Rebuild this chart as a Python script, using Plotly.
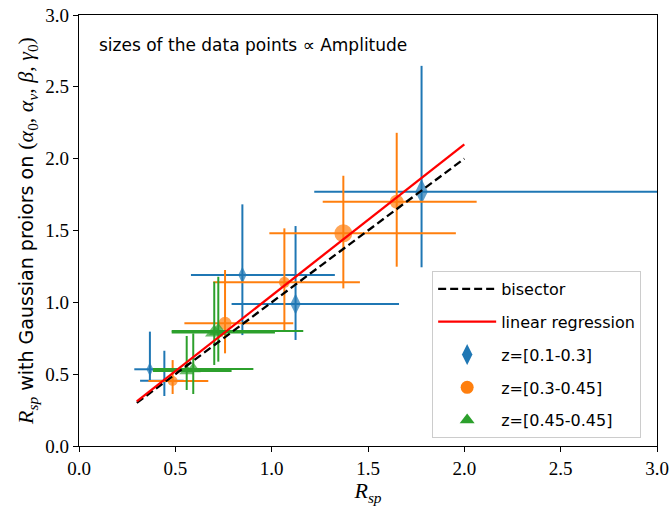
import plotly.graph_objects as go

# ---- data ----
bisector_x = [0.3, 2.0]
bisector_y = [0.3, 2.0]
reg_x = [0.3, 2.0]
reg_y = [0.31, 2.10]

blue_x = [0.368, 0.443, 0.848, 1.124, 1.778]
blue_y = [0.534, 0.455, 1.190, 0.988, 1.770]
blue_xm = [0.081, 0.126, 0.267, 0.332, 0.557]
blue_xp = [0.080, 0.100, 0.480, 0.537, 1.500]
blue_ym = [0.086, 0.107, 0.418, 0.250, 0.526]
blue_yp = [0.262, 0.208, 0.492, 0.543, 0.876]
blue_amp = [10, 5, 12, 15, 18]

orange_x = [0.486, 0.758, 1.066, 1.372, 1.649]
orange_y = [0.452, 0.854, 1.139, 1.480, 1.700]
orange_xm = [0.126, 0.211, 0.369, 0.384, 0.384]
orange_xp = [0.185, 0.354, 0.392, 0.584, 0.415]
orange_ym = [0.090, 0.209, 0.332, 0.383, 0.452]
orange_yp = [0.146, 0.371, 0.376, 0.401, 0.480]
orange_amp = [10, 13, 11, 18, 14]

green_x = [0.559, 0.593, 0.702, 0.723]
green_y = [0.522, 0.536, 0.790, 0.800]
green_xm = [0.175, 0.209, 0.221, 0.242]
green_xp = [0.233, 0.312, 0.315, 0.441]
green_ym = [0.132, 0.174, 0.226, 0.213]
green_yp = [0.244, 0.248, 0.353, 0.378]
green_amp = [13, 13, 16, 16]

ticks = [0.0, 0.5, 1.0, 1.5, 2.0, 2.5, 3.0]
tick_labels = ["0.0", "0.5", "1.0", "1.5", "2.0", "2.5", "3.0"]

labels = ["z=[0.1-0.3]", "z=[0.3-0.45]", "z=[0.45-0.45]"]
colors = ["#1f77b4", "#ff7f0e", "#2ca02c"]
symbols = ["diamond-tall", "circle", "triangle-up"]
legend_sizes = [15, 13, 13]

SANS = "DejaVu Sans"
SERIF = "Liberation Serif"

fig = go.Figure()

groups = [
    (blue_x, blue_y, blue_xm, blue_xp, blue_ym, blue_yp, blue_amp),
    (orange_x, orange_y, orange_xm, orange_xp, orange_ym, orange_yp, orange_amp),
    (green_x, green_y, green_xm, green_xp, green_ym, green_yp, green_amp),
]

for (x, y, xm, xp, ym, yp, amp), col, sym in zip(groups, colors, symbols):
    fig.add_trace(go.Scatter(
        x=x, y=y, mode="markers", showlegend=False,
        marker=dict(color=col, size=amp, symbol=sym, line=dict(width=0)),
        error_x=dict(type="data", symmetric=False, array=xp, arrayminus=xm,
                     color=col, thickness=2, width=0),
        error_y=dict(type="data", symmetric=False, array=yp, arrayminus=ym,
                     color=col, thickness=2, width=0),
    ))

fig.add_trace(go.Scatter(x=bisector_x, y=bisector_y, mode="lines", name="bisector",
                         line=dict(color="black", width=2.3, dash="8px,4px"),
                         legendgroup="g1", legendrank=1))
fig.add_trace(go.Scatter(x=reg_x, y=reg_y, mode="lines", name="linear regression",
                         line=dict(color="red", width=2.3),
                         legendgroup="g2", legendrank=2))

for i, (lab, col, sym, ls) in enumerate(zip(labels, colors, symbols, legend_sizes)):
    fig.add_trace(go.Scatter(x=[None], y=[None], mode="markers", name=lab,
                             marker=dict(color=col, size=ls, symbol=sym),
                             legendgroup="g%d" % (i + 3), legendrank=i + 3))

fig.add_annotation(x=0.031, y=0.930, xref="paper", yref="paper",
                   text="sizes of the data points ∝ Amplitude", showarrow=False,
                   xanchor="left", yanchor="middle",
                   font=dict(family=SANS, size=17, color="black"))

MATH = "font-family:Liberation Serif;font-size:22px"
ytitle = ('<span style="%s"><i>R</i><sub><i>sp</i></sub></span>'
          ' with Gaussian proiors on '
          '<span style="%s">(<i>α</i><sub>0</sub>, <i>α</i><sub><i>ν</i></sub>, '
          '<i>β</i>, <i>γ</i><sub>0</sub>)</span>') % (MATH, MATH)

axis_common = dict(range=[0, 3], tickmode="array", tickvals=ticks, ticktext=tick_labels,
                   showgrid=False, zeroline=False, showline=True, mirror=True,
                   linecolor="black", linewidth=1.2, ticks="outside", ticklen=5,
                   tickwidth=1.2, tickcolor="black", automargin=False,
                   tickfont=dict(family=SERIF, size=19, color="black"))

fig.update_layout(
    width=672, height=506,
    margin=dict(l=79, r=15, t=15, b=60),
    plot_bgcolor="white", paper_bgcolor="white",
    xaxis=dict(**axis_common,
               title=dict(text="<i>R</i><sub><i>sp</i></sub>",
                          font=dict(family=SERIF, size=22, color="black"), standoff=4)),
    yaxis=dict(**axis_common,
               title=dict(text=ytitle, font=dict(family=SANS, size=19, color="black"),
                          standoff=6)),
    legend=dict(x=0.611, y=0.406, xanchor="left", yanchor="top",
                bgcolor="rgba(255,255,255,0.85)", bordercolor="#cccccc", borderwidth=1,
                font=dict(family=SANS, size=16, color="black"),
                traceorder="grouped", tracegroupgap=9, itemwidth=58),
)

fig.write_html("out.html")
